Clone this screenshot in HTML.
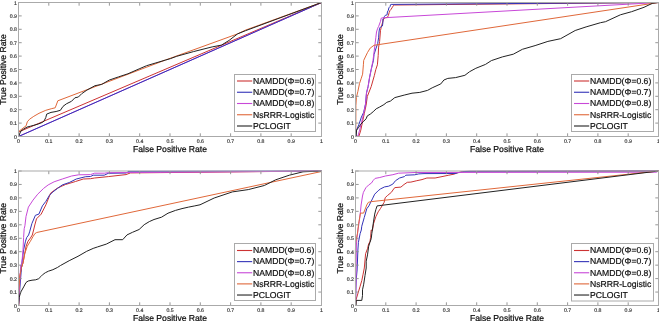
<!DOCTYPE html><html><head><meta charset="utf-8"><style>html,body{margin:0;padding:0;background:#fff;}svg{display:block;will-change:transform;filter:blur(0.3px);}</style></head><body>
<svg width="659" height="321" viewBox="0 0 659 321" font-family="Liberation Sans, sans-serif" text-rendering="geometricPrecision">
<rect width="659" height="321" fill="#fff"/>
<g><path d="M18.5,136.5 L18.5,132 L321.5,2.5" fill="none" stroke="#cc3333" stroke-width="1" stroke-linejoin="round"/><path d="M18.5,136.5 L321.5,2.5" fill="none" stroke="#c848d8" stroke-width="1" stroke-linejoin="round"/><path d="M18.5,136.5 L321.5,2.5" fill="none" stroke="#3333b8" stroke-width="1" stroke-linejoin="round"/><path d="M18.5,136.5 L18.7,131.5 L26.1,125.8 L27.3,121.8 L29.6,119.2 L33.8,116.3 L39,113.3 L45.8,110.3 L51.8,108.6 L55.2,107.8 L57,103 L57.8,100.8 L95,86.7 L165.5,60 L237.5,33.9 L245.5,30.1 L321.5,2.5" fill="none" stroke="#e0683a" stroke-width="1" stroke-linejoin="round"/><path d="M18.5,136.5 L20.9,131 L23.5,129.2 L27,127.1 L30.5,126.2 L33.9,125.3 L38.3,124 L42.6,122.3 L44.1,121 L45.8,117.5 L46.7,114.1 L51,112.4 L56.1,111.5 L60.4,110.3 L63,106.4 L66.4,103.8 L71.5,101.3 L74.9,97.8 L78.4,97 L81.8,93.6 L86.9,90.1 L95,85.7 L101.7,84.4 L109.2,80.1 L118.5,76.9 L127.9,73.8 L139.1,68.9 L146.6,65.7 L155.9,62.9 L165.3,60.1 L170.5,58.6 L176.7,56.3 L193.5,51.6 L212.2,46.9 L221.5,45.1 L229.1,40.4 L237.5,33.9 L245.5,30.7 L321.5,2.5" fill="none" stroke="#222222" stroke-width="1" stroke-linejoin="round"/><path d="M18.5,136.5v-3.2M18.5,2.5v3.2M18.5,136.5h3.2M321.5,136.5h-3.2M48.8,136.5v-3.2M48.8,2.5v3.2M18.5,123.1h3.2M321.5,123.1h-3.2M79.1,136.5v-3.2M79.1,2.5v3.2M18.5,109.7h3.2M321.5,109.7h-3.2M109.4,136.5v-3.2M109.4,2.5v3.2M18.5,96.3h3.2M321.5,96.3h-3.2M139.7,136.5v-3.2M139.7,2.5v3.2M18.5,82.9h3.2M321.5,82.9h-3.2M170,136.5v-3.2M170,2.5v3.2M18.5,69.5h3.2M321.5,69.5h-3.2M200.3,136.5v-3.2M200.3,2.5v3.2M18.5,56.1h3.2M321.5,56.1h-3.2M230.6,136.5v-3.2M230.6,2.5v3.2M18.5,42.7h3.2M321.5,42.7h-3.2M260.9,136.5v-3.2M260.9,2.5v3.2M18.5,29.3h3.2M321.5,29.3h-3.2M291.2,136.5v-3.2M291.2,2.5v3.2M18.5,15.9h3.2M321.5,15.9h-3.2M321.5,136.5v-3.2M321.5,2.5v3.2M18.5,2.5h3.2M321.5,2.5h-3.2" stroke="#8c8c8c" stroke-width="0.9" fill="none"/><rect x="18.5" y="2.5" width="303" height="134" fill="none" stroke="#aaaaaa" stroke-width="1"/><text x="18.5" y="142.9" font-size="5.2" text-anchor="middle" fill="#333" stroke="#333" stroke-width="0.15">0</text><text x="16.9" y="138.5" font-size="5.2" text-anchor="end" fill="#333" stroke="#333" stroke-width="0.15">0</text><text x="48.8" y="142.9" font-size="5.2" text-anchor="middle" fill="#333" stroke="#333" stroke-width="0.15">0.1</text><text x="16.9" y="125.1" font-size="5.2" text-anchor="end" fill="#333" stroke="#333" stroke-width="0.15">0.1</text><text x="79.1" y="142.9" font-size="5.2" text-anchor="middle" fill="#333" stroke="#333" stroke-width="0.15">0.2</text><text x="16.9" y="111.7" font-size="5.2" text-anchor="end" fill="#333" stroke="#333" stroke-width="0.15">0.2</text><text x="109.4" y="142.9" font-size="5.2" text-anchor="middle" fill="#333" stroke="#333" stroke-width="0.15">0.3</text><text x="16.9" y="98.3" font-size="5.2" text-anchor="end" fill="#333" stroke="#333" stroke-width="0.15">0.3</text><text x="139.7" y="142.9" font-size="5.2" text-anchor="middle" fill="#333" stroke="#333" stroke-width="0.15">0.4</text><text x="16.9" y="84.9" font-size="5.2" text-anchor="end" fill="#333" stroke="#333" stroke-width="0.15">0.4</text><text x="170" y="142.9" font-size="5.2" text-anchor="middle" fill="#333" stroke="#333" stroke-width="0.15">0.5</text><text x="16.9" y="71.5" font-size="5.2" text-anchor="end" fill="#333" stroke="#333" stroke-width="0.15">0.5</text><text x="200.3" y="142.9" font-size="5.2" text-anchor="middle" fill="#333" stroke="#333" stroke-width="0.15">0.6</text><text x="16.9" y="58.1" font-size="5.2" text-anchor="end" fill="#333" stroke="#333" stroke-width="0.15">0.6</text><text x="230.6" y="142.9" font-size="5.2" text-anchor="middle" fill="#333" stroke="#333" stroke-width="0.15">0.7</text><text x="16.9" y="44.7" font-size="5.2" text-anchor="end" fill="#333" stroke="#333" stroke-width="0.15">0.7</text><text x="260.9" y="142.9" font-size="5.2" text-anchor="middle" fill="#333" stroke="#333" stroke-width="0.15">0.8</text><text x="16.9" y="31.3" font-size="5.2" text-anchor="end" fill="#333" stroke="#333" stroke-width="0.15">0.8</text><text x="291.2" y="142.9" font-size="5.2" text-anchor="middle" fill="#333" stroke="#333" stroke-width="0.15">0.9</text><text x="16.9" y="17.9" font-size="5.2" text-anchor="end" fill="#333" stroke="#333" stroke-width="0.15">0.9</text><text x="321.5" y="142.9" font-size="5.2" text-anchor="middle" fill="#333" stroke="#333" stroke-width="0.15">1</text><text x="16.9" y="4.5" font-size="5.2" text-anchor="end" fill="#333" stroke="#333" stroke-width="0.15">1</text><text x="170" y="151.6" font-size="8.6" text-anchor="middle" fill="#111" stroke="#111" stroke-width="0.25">False Positive Rate</text><text transform="translate(5.8,69.5) rotate(-90)" font-size="8.6" text-anchor="middle" fill="#111" stroke="#111" stroke-width="0.25">True Positive Rate</text><rect x="234.5" y="74.5" width="81" height="57" fill="#fff" stroke="#aaaaaa" stroke-width="1"/><path d="M237,81h15.2" stroke="#cc3333" stroke-width="1.1"/><text x="253" y="83.8" font-size="8.65" fill="#111" stroke="#111" stroke-width="0.2">NAMDD(&#934;=0.6)</text><path d="M237,92.25h15.2" stroke="#3333b8" stroke-width="1.1"/><text x="253" y="95.05" font-size="8.65" fill="#111" stroke="#111" stroke-width="0.2">NAMDD(&#934;=0.7)</text><path d="M237,103.5h15.2" stroke="#c848d8" stroke-width="1.1"/><text x="253" y="106.3" font-size="8.65" fill="#111" stroke="#111" stroke-width="0.2">NAMDD(&#934;=0.8)</text><path d="M237,114.75h15.2" stroke="#e0683a" stroke-width="1.1"/><text x="253" y="117.55" font-size="8.65" fill="#111" stroke="#111" stroke-width="0.2">NsRRR-Logistic</text><path d="M237,126h15.2" stroke="#222222" stroke-width="1.1"/><text x="253" y="128.8" font-size="8.65" fill="#111" stroke="#111" stroke-width="0.2">PCLOGIT</text></g>
<g><path d="M355.5,136.5 L359,136 L360.8,130.1 L362.5,121.8 L364.3,113.5 L366.1,105.2 L367.3,96.5 L371.2,86.6 L374.3,75.7 L375.8,69.5 L377.4,64.8 L378.2,55.5 L378.6,47.1 L379.6,41.5 L380.5,30.4 L381.4,26.6 L382.7,22 L383.7,18.7 L385.8,17.6 L387.3,17.6 L388.3,15.6 L389.2,12.5 L390.1,10.3 L391.1,9.3 L392,7.8 L392.6,6.9 L393.6,5.3 L394.2,5 L658.5,2.5" fill="none" stroke="#cc3333" stroke-width="1" stroke-linejoin="round"/><path d="M355.5,136.5 L356,136 L356.5,130.1 L359,124.2 L361.4,117.1 L363.7,112.3 L365.5,104.1 L366.5,92.9 L368.1,86.6 L369.6,77.3 L371.2,69.5 L373.5,60.2 L374,54.6 L375.8,49 L377.7,43.4 L378.6,37.8 L379,32 L379.6,28.2 L380.9,26.6 L382.4,26 L382.9,22.6 L382.9,18.9 L383.7,18.2 L384.3,16.7 L385.2,15.4 L387.1,14.8 L387.4,12 L388.3,10.3 L388.9,7.8 L390.1,6.5 L390.5,4.7 L391.1,4.4 L658.5,2.5" fill="none" stroke="#3333b8" stroke-width="1" stroke-linejoin="round"/><path d="M355.5,136.5 L357.8,136.5 L359.6,130.1 L361.4,123 L363.7,113.5 L365.5,104.1 L366.5,92.9 L368.1,86.6 L369.6,77.3 L371.2,69.5 L373,60.4 L374.9,45.3 L375.8,37.8 L376.5,32 L377.7,28.2 L378.7,26.3 L380.5,21.3 L381.2,18.2 L382.1,17.9 L386.5,17.6 L658.5,2.5" fill="none" stroke="#c848d8" stroke-width="1" stroke-linejoin="round"/><path d="M355.5,136.5 L355.8,130.5 L355.9,105.5 L356.4,97.5 L357.9,91.3 L359.5,83.5 L361.1,78.8 L362.6,74.2 L363.4,64.8 L363.7,60.4 L367.4,52.7 L370.2,48.1 L374,45.3 L658.5,2.5" fill="none" stroke="#e0683a" stroke-width="1" stroke-linejoin="round"/><path d="M355.5,136.5 L356,136 L356.6,130.1 L358.4,127.7 L360.8,124.2 L363.2,121.8 L366.1,118.8 L367.3,115.9 L370.3,114.1 L373.2,111.7 L376.2,108.8 L379.7,107 L383.9,104.6 L386.8,102.3 L390.4,101.1 L394.8,97.6 L404.2,95.1 L412,93.2 L419.8,92.4 L427.5,90.4 L432.2,87.8 L440.8,83.9 L443.9,80 L447.8,78.4 L455.6,77.6 L464.9,75.3 L469.6,71.7 L475.8,68.3 L485.5,64.4 L491.4,60.6 L502.4,56.9 L513.3,54.2 L522.4,49.3 L535.1,45.6 L547.9,41.4 L560.6,38.7 L575.2,30.5 L586.1,26.9 L600.5,22.7 L605.5,21.7 L620.4,14.8 L631.6,11.7 L644,7.3 L649,4.9 L652.8,3.2 L658.5,2.5" fill="none" stroke="#222222" stroke-width="1" stroke-linejoin="round"/><path d="M355.5,136.5v-3.2M355.5,2.5v3.2M355.5,136.5h3.2M658.5,136.5h-3.2M385.8,136.5v-3.2M385.8,2.5v3.2M355.5,123.1h3.2M658.5,123.1h-3.2M416.1,136.5v-3.2M416.1,2.5v3.2M355.5,109.7h3.2M658.5,109.7h-3.2M446.4,136.5v-3.2M446.4,2.5v3.2M355.5,96.3h3.2M658.5,96.3h-3.2M476.7,136.5v-3.2M476.7,2.5v3.2M355.5,82.9h3.2M658.5,82.9h-3.2M507,136.5v-3.2M507,2.5v3.2M355.5,69.5h3.2M658.5,69.5h-3.2M537.3,136.5v-3.2M537.3,2.5v3.2M355.5,56.1h3.2M658.5,56.1h-3.2M567.6,136.5v-3.2M567.6,2.5v3.2M355.5,42.7h3.2M658.5,42.7h-3.2M597.9,136.5v-3.2M597.9,2.5v3.2M355.5,29.3h3.2M658.5,29.3h-3.2M628.2,136.5v-3.2M628.2,2.5v3.2M355.5,15.9h3.2M658.5,15.9h-3.2M658.5,136.5v-3.2M658.5,2.5v3.2M355.5,2.5h3.2M658.5,2.5h-3.2" stroke="#8c8c8c" stroke-width="0.9" fill="none"/><rect x="355.5" y="2.5" width="303" height="134" fill="none" stroke="#aaaaaa" stroke-width="1"/><text x="355.5" y="142.9" font-size="5.2" text-anchor="middle" fill="#333" stroke="#333" stroke-width="0.15">0</text><text x="353.9" y="138.5" font-size="5.2" text-anchor="end" fill="#333" stroke="#333" stroke-width="0.15">0</text><text x="385.8" y="142.9" font-size="5.2" text-anchor="middle" fill="#333" stroke="#333" stroke-width="0.15">0.1</text><text x="353.9" y="125.1" font-size="5.2" text-anchor="end" fill="#333" stroke="#333" stroke-width="0.15">0.1</text><text x="416.1" y="142.9" font-size="5.2" text-anchor="middle" fill="#333" stroke="#333" stroke-width="0.15">0.2</text><text x="353.9" y="111.7" font-size="5.2" text-anchor="end" fill="#333" stroke="#333" stroke-width="0.15">0.2</text><text x="446.4" y="142.9" font-size="5.2" text-anchor="middle" fill="#333" stroke="#333" stroke-width="0.15">0.3</text><text x="353.9" y="98.3" font-size="5.2" text-anchor="end" fill="#333" stroke="#333" stroke-width="0.15">0.3</text><text x="476.7" y="142.9" font-size="5.2" text-anchor="middle" fill="#333" stroke="#333" stroke-width="0.15">0.4</text><text x="353.9" y="84.9" font-size="5.2" text-anchor="end" fill="#333" stroke="#333" stroke-width="0.15">0.4</text><text x="507" y="142.9" font-size="5.2" text-anchor="middle" fill="#333" stroke="#333" stroke-width="0.15">0.5</text><text x="353.9" y="71.5" font-size="5.2" text-anchor="end" fill="#333" stroke="#333" stroke-width="0.15">0.5</text><text x="537.3" y="142.9" font-size="5.2" text-anchor="middle" fill="#333" stroke="#333" stroke-width="0.15">0.6</text><text x="353.9" y="58.1" font-size="5.2" text-anchor="end" fill="#333" stroke="#333" stroke-width="0.15">0.6</text><text x="567.6" y="142.9" font-size="5.2" text-anchor="middle" fill="#333" stroke="#333" stroke-width="0.15">0.7</text><text x="353.9" y="44.7" font-size="5.2" text-anchor="end" fill="#333" stroke="#333" stroke-width="0.15">0.7</text><text x="597.9" y="142.9" font-size="5.2" text-anchor="middle" fill="#333" stroke="#333" stroke-width="0.15">0.8</text><text x="353.9" y="31.3" font-size="5.2" text-anchor="end" fill="#333" stroke="#333" stroke-width="0.15">0.8</text><text x="628.2" y="142.9" font-size="5.2" text-anchor="middle" fill="#333" stroke="#333" stroke-width="0.15">0.9</text><text x="353.9" y="17.9" font-size="5.2" text-anchor="end" fill="#333" stroke="#333" stroke-width="0.15">0.9</text><text x="658.5" y="142.9" font-size="5.2" text-anchor="middle" fill="#333" stroke="#333" stroke-width="0.15">1</text><text x="353.9" y="4.5" font-size="5.2" text-anchor="end" fill="#333" stroke="#333" stroke-width="0.15">1</text><text x="507" y="151.6" font-size="8.6" text-anchor="middle" fill="#111" stroke="#111" stroke-width="0.25">False Positive Rate</text><text transform="translate(342.8,69.5) rotate(-90)" font-size="8.6" text-anchor="middle" fill="#111" stroke="#111" stroke-width="0.25">True Positive Rate</text><rect x="571.5" y="74.5" width="82" height="57" fill="#fff" stroke="#aaaaaa" stroke-width="1"/><path d="M574,81h15.2" stroke="#cc3333" stroke-width="1.1"/><text x="590" y="83.8" font-size="8.65" fill="#111" stroke="#111" stroke-width="0.2">NAMDD(&#934;=0.6)</text><path d="M574,92.25h15.2" stroke="#3333b8" stroke-width="1.1"/><text x="590" y="95.05" font-size="8.65" fill="#111" stroke="#111" stroke-width="0.2">NAMDD(&#934;=0.7)</text><path d="M574,103.5h15.2" stroke="#c848d8" stroke-width="1.1"/><text x="590" y="106.3" font-size="8.65" fill="#111" stroke="#111" stroke-width="0.2">NAMDD(&#934;=0.8)</text><path d="M574,114.75h15.2" stroke="#e0683a" stroke-width="1.1"/><text x="590" y="117.55" font-size="8.65" fill="#111" stroke="#111" stroke-width="0.2">NsRRR-Logistic</text><path d="M574,126h15.2" stroke="#222222" stroke-width="1.1"/><text x="590" y="128.8" font-size="8.65" fill="#111" stroke="#111" stroke-width="0.2">PCLOGIT</text></g>
<g><path d="M18.5,305.5 L18.8,304.9 L18.8,282.5 L20,275 L21.5,267.5 L23,263 L24.2,256.1 L26.1,246.2 L28,241.2 L30.4,238.1 L32.3,235 L33.6,230 L34.8,225 L36.5,218.8 L41.2,214.1 L45.9,204.8 L50.6,193.1 L57.5,188 L65.5,184.5 L75.5,181.5 L83.3,179 L90.5,178.7 L94.6,178 L108.3,176.6 L126,174.6 L130.5,172.9 L160.5,172.6 L321.5,171" fill="none" stroke="#cc3333" stroke-width="1" stroke-linejoin="round"/><path d="M18.5,305.5 L21.7,265 L23.6,249.9 L25.5,241.2 L26.7,237.5 L28.6,235 L29.8,231.2 L31.9,223.5 L35.4,215.3 L38.9,214.1 L42.4,205.9 L45.9,201.3 L49.4,195.4 L52.9,191.9 L57.6,188.4 L62.3,184.9 L69.3,182.5 L76.3,179 L85.7,176.7 L90.5,176.5 L93.2,175.2 L104.2,175.2 L108.3,173.3 L126.5,173 L128,171.4 L321.5,171" fill="none" stroke="#3333b8" stroke-width="1" stroke-linejoin="round"/><path d="M18.5,305.5 L20.7,265 L21.7,265 L23,249.9 L23.6,237.5 L24.2,228.7 L24.9,225.8 L26,216.5 L28.4,207.1 L33,200.1 L37.7,194.2 L43.6,188.4 L48.2,184.9 L54.1,181.8 L62.3,179 L71.6,176 L78.7,174.8 L90.5,174.6 L94.6,173.2 L104.2,173.2 L108.3,172.7 L200.5,172.1 L321.5,171" fill="none" stroke="#c848d8" stroke-width="1" stroke-linejoin="round"/><path d="M18.5,305.5 L18.8,290 L20,275 L21.5,267.5 L23,263 L24.8,253.6 L27.3,246.2 L30.4,241.2 L32.9,236.8 L34.8,233.7 L36.7,232.5 L321.5,171.5" fill="none" stroke="#e0683a" stroke-width="1" stroke-linejoin="round"/><path d="M18.5,305.5 L19.2,297.4 L20.7,292.2 L23.7,286.9 L26,282.5 L28.2,281 L32,280.2 L35.7,279.8 L38.7,278.7 L40.9,276.5 L43.2,274.2 L45.4,272.7 L48.4,271.2 L52.9,269.7 L57.4,267.5 L60.5,265.5 L69.2,260.7 L78,256.3 L86.7,251.3 L93.2,248.4 L97.6,246.9 L106.3,244.1 L115,239.7 L122.7,239.7 L127,234.9 L132.5,232.3 L139.1,229.5 L144.2,224.7 L149.3,221.6 L154,219.5 L161.5,217.2 L168,213.2 L175.5,210.4 L182,208.6 L188.6,207.1 L194.2,206 L200,204.8 L214.2,198 L232.4,191.9 L248.3,189.6 L264.3,185.5 L275.7,179.8 L289.3,175.2 L303,171.8 L312.1,171.4 L321.5,171.2" fill="none" stroke="#222222" stroke-width="1" stroke-linejoin="round"/><path d="M18.5,305.5v-3.2M18.5,171v3.2M18.5,305.5h3.2M321.5,305.5h-3.2M48.8,305.5v-3.2M48.8,171v3.2M18.5,292.05h3.2M321.5,292.05h-3.2M79.1,305.5v-3.2M79.1,171v3.2M18.5,278.6h3.2M321.5,278.6h-3.2M109.4,305.5v-3.2M109.4,171v3.2M18.5,265.15h3.2M321.5,265.15h-3.2M139.7,305.5v-3.2M139.7,171v3.2M18.5,251.7h3.2M321.5,251.7h-3.2M170,305.5v-3.2M170,171v3.2M18.5,238.25h3.2M321.5,238.25h-3.2M200.3,305.5v-3.2M200.3,171v3.2M18.5,224.8h3.2M321.5,224.8h-3.2M230.6,305.5v-3.2M230.6,171v3.2M18.5,211.35h3.2M321.5,211.35h-3.2M260.9,305.5v-3.2M260.9,171v3.2M18.5,197.9h3.2M321.5,197.9h-3.2M291.2,305.5v-3.2M291.2,171v3.2M18.5,184.45h3.2M321.5,184.45h-3.2M321.5,305.5v-3.2M321.5,171v3.2M18.5,171h3.2M321.5,171h-3.2" stroke="#8c8c8c" stroke-width="0.9" fill="none"/><rect x="18.5" y="171" width="303" height="134.5" fill="none" stroke="#aaaaaa" stroke-width="1"/><text x="18.5" y="311.9" font-size="5.2" text-anchor="middle" fill="#333" stroke="#333" stroke-width="0.15">0</text><text x="16.9" y="307.5" font-size="5.2" text-anchor="end" fill="#333" stroke="#333" stroke-width="0.15">0</text><text x="48.8" y="311.9" font-size="5.2" text-anchor="middle" fill="#333" stroke="#333" stroke-width="0.15">0.1</text><text x="16.9" y="294.05" font-size="5.2" text-anchor="end" fill="#333" stroke="#333" stroke-width="0.15">0.1</text><text x="79.1" y="311.9" font-size="5.2" text-anchor="middle" fill="#333" stroke="#333" stroke-width="0.15">0.2</text><text x="16.9" y="280.6" font-size="5.2" text-anchor="end" fill="#333" stroke="#333" stroke-width="0.15">0.2</text><text x="109.4" y="311.9" font-size="5.2" text-anchor="middle" fill="#333" stroke="#333" stroke-width="0.15">0.3</text><text x="16.9" y="267.15" font-size="5.2" text-anchor="end" fill="#333" stroke="#333" stroke-width="0.15">0.3</text><text x="139.7" y="311.9" font-size="5.2" text-anchor="middle" fill="#333" stroke="#333" stroke-width="0.15">0.4</text><text x="16.9" y="253.7" font-size="5.2" text-anchor="end" fill="#333" stroke="#333" stroke-width="0.15">0.4</text><text x="170" y="311.9" font-size="5.2" text-anchor="middle" fill="#333" stroke="#333" stroke-width="0.15">0.5</text><text x="16.9" y="240.25" font-size="5.2" text-anchor="end" fill="#333" stroke="#333" stroke-width="0.15">0.5</text><text x="200.3" y="311.9" font-size="5.2" text-anchor="middle" fill="#333" stroke="#333" stroke-width="0.15">0.6</text><text x="16.9" y="226.8" font-size="5.2" text-anchor="end" fill="#333" stroke="#333" stroke-width="0.15">0.6</text><text x="230.6" y="311.9" font-size="5.2" text-anchor="middle" fill="#333" stroke="#333" stroke-width="0.15">0.7</text><text x="16.9" y="213.35" font-size="5.2" text-anchor="end" fill="#333" stroke="#333" stroke-width="0.15">0.7</text><text x="260.9" y="311.9" font-size="5.2" text-anchor="middle" fill="#333" stroke="#333" stroke-width="0.15">0.8</text><text x="16.9" y="199.9" font-size="5.2" text-anchor="end" fill="#333" stroke="#333" stroke-width="0.15">0.8</text><text x="291.2" y="311.9" font-size="5.2" text-anchor="middle" fill="#333" stroke="#333" stroke-width="0.15">0.9</text><text x="16.9" y="186.45" font-size="5.2" text-anchor="end" fill="#333" stroke="#333" stroke-width="0.15">0.9</text><text x="321.5" y="311.9" font-size="5.2" text-anchor="middle" fill="#333" stroke="#333" stroke-width="0.15">1</text><text x="16.9" y="173" font-size="5.2" text-anchor="end" fill="#333" stroke="#333" stroke-width="0.15">1</text><text x="170" y="320.6" font-size="8.6" text-anchor="middle" fill="#111" stroke="#111" stroke-width="0.25">False Positive Rate</text><text transform="translate(5.8,238.25) rotate(-90)" font-size="8.6" text-anchor="middle" fill="#111" stroke="#111" stroke-width="0.25">True Positive Rate</text><rect x="234.5" y="243.5" width="81" height="57" fill="#fff" stroke="#aaaaaa" stroke-width="1"/><path d="M237,250.5h15.2" stroke="#cc3333" stroke-width="1.1"/><text x="253" y="253.3" font-size="8.65" fill="#111" stroke="#111" stroke-width="0.2">NAMDD(&#934;=0.6)</text><path d="M237,261.63h15.2" stroke="#3333b8" stroke-width="1.1"/><text x="253" y="264.43" font-size="8.65" fill="#111" stroke="#111" stroke-width="0.2">NAMDD(&#934;=0.7)</text><path d="M237,272.76h15.2" stroke="#c848d8" stroke-width="1.1"/><text x="253" y="275.56" font-size="8.65" fill="#111" stroke="#111" stroke-width="0.2">NAMDD(&#934;=0.8)</text><path d="M237,283.89h15.2" stroke="#e0683a" stroke-width="1.1"/><text x="253" y="286.69" font-size="8.65" fill="#111" stroke="#111" stroke-width="0.2">NsRRR-Logistic</text><path d="M237,295.02h15.2" stroke="#222222" stroke-width="1.1"/><text x="253" y="297.82" font-size="8.65" fill="#111" stroke="#111" stroke-width="0.2">PCLOGIT</text></g>
<g><path d="M355.5,305.5 L356.2,299.2 L358.1,292.9 L360,286.7 L361.8,280.5 L363.1,274.2 L364.3,268 L365.6,253.7 L367.5,248.7 L368.7,243.7 L369.9,241.8 L370.6,237.5 L371.2,230 L372.4,230.5 L373.6,223.5 L375.9,216.5 L378.2,211.8 L380.6,208.3 L384.1,202.4 L385.2,197.7 L387.3,195.7 L391.4,192.3 L394.2,188.2 L395,187.6 L400.9,187.1 L404,184.5 L407.3,182.3 L410.9,182.1 L416.8,180.7 L422,179.6 L424.1,178.9 L426.9,178 L435.1,178 L442,176.6 L448.8,175.2 L454.2,174.1 L457.8,172.7 L462.4,171.6 L466,171.4 L658.5,171" fill="none" stroke="#cc3333" stroke-width="1" stroke-linejoin="round"/><path d="M355.5,305.5 L355.8,290 L356.2,280 L357.1,270 L357.5,260 L357.9,250 L358.4,242.5 L360.1,233.7 L361.3,230 L361.75,226.25 L364.25,217.5 L366.75,208.75 L368.9,205.9 L372.4,198.9 L374.7,194.2 L378.2,190.7 L380.5,188.9 L384.6,186.9 L388.7,186.2 L392.8,184.1 L395.5,180.7 L399.6,178 L404.4,176.6 L405.8,175.2 L414.7,174.8 L418.8,173.9 L424,173.6 L455,173.5 L458,172.7 L464.2,171.6 L470,171.3 L658.5,171" fill="none" stroke="#3333b8" stroke-width="1" stroke-linejoin="round"/><path d="M355.5,305.5 L355.9,290 L356.2,260 L356.4,245 L357,237.5 L358,230 L359.25,221.25 L360.5,211.25 L361.1,205 L362.5,196 L363.4,192.4 L365.8,187.8 L368.6,185 L371.4,183.1 L373.3,180.3 L375.1,178.4 L379.8,177.5 L385.4,176 L392.9,174.7 L398.5,173.2 L415,172.5 L656.5,172.2 L658.5,171" fill="none" stroke="#c848d8" stroke-width="1" stroke-linejoin="round"/><path d="M355.5,305.5 L355.4,250 L355.7,242 L357.4,233.75 L358.6,223.75 L360.5,213.1 L363.6,213.1 L366.75,205 L368.4,202.3 L371.5,201.6 L658.5,171" fill="none" stroke="#e0683a" stroke-width="1" stroke-linejoin="round"/><path d="M355.5,305.5 L356,305.4 L356.2,300.4 L361.8,300.4 L362.5,295.4 L362.5,289.8 L363.7,284.2 L365,275.5 L366.2,268 L366.2,261.2 L367.5,254.9 L368.7,246.2 L369.9,242.5 L371.2,238.7 L371.8,233.7 L373.6,221.1 L374.7,214.1 L375.9,209.4 L377.1,205.9 L658.5,171" fill="none" stroke="#222222" stroke-width="1" stroke-linejoin="round"/><path d="M355.5,305.5v-3.2M355.5,171v3.2M355.5,305.5h3.2M658.5,305.5h-3.2M385.8,305.5v-3.2M385.8,171v3.2M355.5,292.05h3.2M658.5,292.05h-3.2M416.1,305.5v-3.2M416.1,171v3.2M355.5,278.6h3.2M658.5,278.6h-3.2M446.4,305.5v-3.2M446.4,171v3.2M355.5,265.15h3.2M658.5,265.15h-3.2M476.7,305.5v-3.2M476.7,171v3.2M355.5,251.7h3.2M658.5,251.7h-3.2M507,305.5v-3.2M507,171v3.2M355.5,238.25h3.2M658.5,238.25h-3.2M537.3,305.5v-3.2M537.3,171v3.2M355.5,224.8h3.2M658.5,224.8h-3.2M567.6,305.5v-3.2M567.6,171v3.2M355.5,211.35h3.2M658.5,211.35h-3.2M597.9,305.5v-3.2M597.9,171v3.2M355.5,197.9h3.2M658.5,197.9h-3.2M628.2,305.5v-3.2M628.2,171v3.2M355.5,184.45h3.2M658.5,184.45h-3.2M658.5,305.5v-3.2M658.5,171v3.2M355.5,171h3.2M658.5,171h-3.2" stroke="#8c8c8c" stroke-width="0.9" fill="none"/><rect x="355.5" y="171" width="303" height="134.5" fill="none" stroke="#aaaaaa" stroke-width="1"/><text x="355.5" y="311.9" font-size="5.2" text-anchor="middle" fill="#333" stroke="#333" stroke-width="0.15">0</text><text x="353.9" y="307.5" font-size="5.2" text-anchor="end" fill="#333" stroke="#333" stroke-width="0.15">0</text><text x="385.8" y="311.9" font-size="5.2" text-anchor="middle" fill="#333" stroke="#333" stroke-width="0.15">0.1</text><text x="353.9" y="294.05" font-size="5.2" text-anchor="end" fill="#333" stroke="#333" stroke-width="0.15">0.1</text><text x="416.1" y="311.9" font-size="5.2" text-anchor="middle" fill="#333" stroke="#333" stroke-width="0.15">0.2</text><text x="353.9" y="280.6" font-size="5.2" text-anchor="end" fill="#333" stroke="#333" stroke-width="0.15">0.2</text><text x="446.4" y="311.9" font-size="5.2" text-anchor="middle" fill="#333" stroke="#333" stroke-width="0.15">0.3</text><text x="353.9" y="267.15" font-size="5.2" text-anchor="end" fill="#333" stroke="#333" stroke-width="0.15">0.3</text><text x="476.7" y="311.9" font-size="5.2" text-anchor="middle" fill="#333" stroke="#333" stroke-width="0.15">0.4</text><text x="353.9" y="253.7" font-size="5.2" text-anchor="end" fill="#333" stroke="#333" stroke-width="0.15">0.4</text><text x="507" y="311.9" font-size="5.2" text-anchor="middle" fill="#333" stroke="#333" stroke-width="0.15">0.5</text><text x="353.9" y="240.25" font-size="5.2" text-anchor="end" fill="#333" stroke="#333" stroke-width="0.15">0.5</text><text x="537.3" y="311.9" font-size="5.2" text-anchor="middle" fill="#333" stroke="#333" stroke-width="0.15">0.6</text><text x="353.9" y="226.8" font-size="5.2" text-anchor="end" fill="#333" stroke="#333" stroke-width="0.15">0.6</text><text x="567.6" y="311.9" font-size="5.2" text-anchor="middle" fill="#333" stroke="#333" stroke-width="0.15">0.7</text><text x="353.9" y="213.35" font-size="5.2" text-anchor="end" fill="#333" stroke="#333" stroke-width="0.15">0.7</text><text x="597.9" y="311.9" font-size="5.2" text-anchor="middle" fill="#333" stroke="#333" stroke-width="0.15">0.8</text><text x="353.9" y="199.9" font-size="5.2" text-anchor="end" fill="#333" stroke="#333" stroke-width="0.15">0.8</text><text x="628.2" y="311.9" font-size="5.2" text-anchor="middle" fill="#333" stroke="#333" stroke-width="0.15">0.9</text><text x="353.9" y="186.45" font-size="5.2" text-anchor="end" fill="#333" stroke="#333" stroke-width="0.15">0.9</text><text x="658.5" y="311.9" font-size="5.2" text-anchor="middle" fill="#333" stroke="#333" stroke-width="0.15">1</text><text x="353.9" y="173" font-size="5.2" text-anchor="end" fill="#333" stroke="#333" stroke-width="0.15">1</text><text x="507" y="320.6" font-size="8.6" text-anchor="middle" fill="#111" stroke="#111" stroke-width="0.25">False Positive Rate</text><text transform="translate(342.8,238.25) rotate(-90)" font-size="8.6" text-anchor="middle" fill="#111" stroke="#111" stroke-width="0.25">True Positive Rate</text><rect x="571.5" y="243.5" width="82" height="57.5" fill="#fff" stroke="#aaaaaa" stroke-width="1"/><path d="M574,250.5h15.2" stroke="#cc3333" stroke-width="1.1"/><text x="590" y="253.3" font-size="8.65" fill="#111" stroke="#111" stroke-width="0.2">NAMDD(&#934;=0.6)</text><path d="M574,261.63h15.2" stroke="#3333b8" stroke-width="1.1"/><text x="590" y="264.43" font-size="8.65" fill="#111" stroke="#111" stroke-width="0.2">NAMDD(&#934;=0.7)</text><path d="M574,272.76h15.2" stroke="#c848d8" stroke-width="1.1"/><text x="590" y="275.56" font-size="8.65" fill="#111" stroke="#111" stroke-width="0.2">NAMDD(&#934;=0.8)</text><path d="M574,283.89h15.2" stroke="#e0683a" stroke-width="1.1"/><text x="590" y="286.69" font-size="8.65" fill="#111" stroke="#111" stroke-width="0.2">NsRRR-Logistic</text><path d="M574,295.02h15.2" stroke="#222222" stroke-width="1.1"/><text x="590" y="297.82" font-size="8.65" fill="#111" stroke="#111" stroke-width="0.2">PCLOGIT</text></g>
</svg></body></html>
